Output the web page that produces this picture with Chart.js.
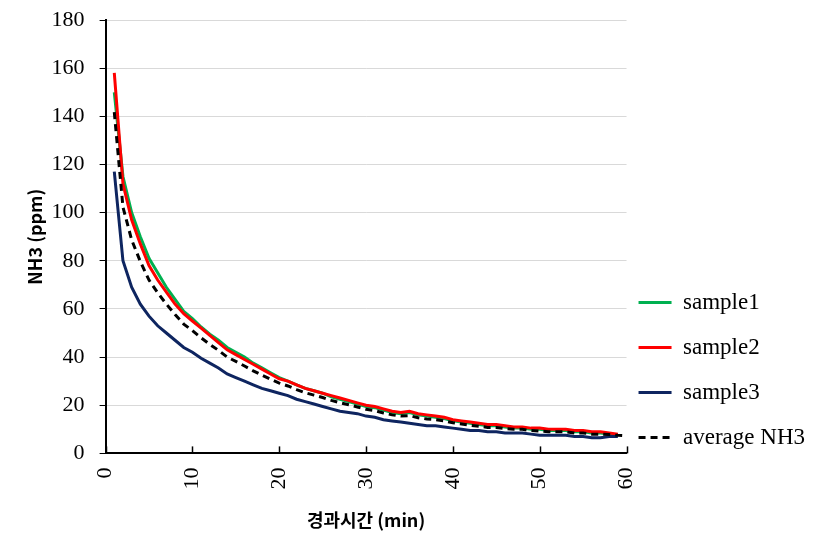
<!DOCTYPE html>
<html>
<head>
<meta charset="utf-8">
<script src="https://cdn.jsdelivr.net/npm/chart.js@4/dist/chart.umd.min.js"></script>
<style>
  html, body { margin: 0; padding: 0; background: #fff; }
  #wrap { width: 817px; height: 548px; }
</style>
</head>
<body>
<div id="wrap"><canvas id="nh3Chart" width="817" height="548"></canvas></div>
<script>
// elapsed time (min)
const minutes = [1,2,3,4,5,6,7,8,9,10,11,12,13,14,15,16,17,18,19,20,21,22,23,24,25,26,27,28,29,30,
  31,32,33,34,35,36,37,38,39,40,41,42,43,44,45,46,47,48,49,50,51,52,53,54,55,56,57,58,59];
const minutesAvg = [1,2,3,4,5,6,7,8,9,10,11,12,13,14,15,16,17,18,19,20,21,22,23,24,25,26,27,28,29,30,
  31,32,33,34,35,36,37,38,39,40,41,42,43,44,45,46,47,48,49,50,51,52,53,54,55,56,57,58,59,60];

// NH3 (ppm)
const sample1 = [150,115,100,90,81,75,69,64,59,56,52.5,49.5,47,44,42,40,37.5,35.5,33.5,31.5,
  30,28.5,27,26,25,23.5,22.5,21.5,20.5,19.5,19,18,17,16.5,17,16,15.5,15,14.5,13.5,
  13,12.5,12,11.5,11.5,11,10.5,10.5,10,10,9.5,9.5,9.5,9,9,8.5,8.5,8,7.5];
const sample2 = [158,112,97,87,78,72,67,62,58,55,52,49,46,43,41,39,37,35,33,31,
  30,28.5,27,26,25,24,23,22,21,20,19.5,18.5,17.5,17,17.5,16.5,16,15.5,15,14,
  13.5,13,12.5,12,12,11.5,11,11,10.5,10.5,10,10,10,9.5,9.5,9,9,8.5,8];
const sample3 = [117,80,69,62,57,53,50,47,44,42,39.5,37.5,35.5,33,31.5,30,28.5,27,26,25,
  24,22.5,21.5,20.5,19.5,18.5,17.5,17,16.5,15.5,15,14,13.5,13,12.5,12,11.5,11.5,11,10.5,
  10,9.5,9.5,9,9,8.5,8.5,8.5,8,7.5,7.5,7.5,7.5,7,7,6.5,6.5,7,7];
const averageNH3 = [141.7,102.3,88.7,79.7,72,66.7,62,57.7,53.7,51,48,45.3,42.8,40,38.2,36.3,34.3,32.5,30.8,29.2,
  28,26.5,25.2,24.2,23.2,22,21,20.2,19.3,18.3,17.8,16.8,16,15.5,15.7,14.8,14.3,14,13.5,12.7,
  12.2,11.7,11.3,10.8,10.8,10.3,10,10,9.5,9.3,9,9,9,8.5,8.5,8,8,7.8,7.5,7.3];

const xTicks = [0,10,20,30,40,50,60];
const yTicks = [0,20,40,60,80,100,120,140,160,180];

const toPoints = (xs, ys) => ys.map((v, i) => ({x: xs[i], y: v}));

// x axis tick marks point into the plot area
const innerTicks = {
  id: 'innerTicks',
  afterDraw(chart) {
    const sx = chart.scales.x;
    const ctx = chart.ctx;
    ctx.save();
    ctx.strokeStyle = '#000';
    ctx.lineWidth = 1.5;
    sx.ticks.forEach(t => {
      const px = Math.round(sx.getPixelForValue(t.value)) + 0.5;
      ctx.beginPath();
      ctx.moveTo(px, sx.top);
      ctx.lineTo(px, sx.top - 7);
      ctx.stroke();
    });
    ctx.restore();
  }
};

// legend sits a bit closer to the plot and lower than chart.js would put it
const legendNudge = {
  id: 'legendNudge',
  afterLayout(chart) {
    const lg = chart.legend;
    lg.left -= 10; lg.right -= 10;
    lg.top -= 64; lg.bottom -= 64;
  }
};

Chart.defaults.font.family = "'Liberation Serif', 'Times New Roman', serif";
Chart.defaults.color = '#000';

new Chart(document.getElementById('nh3Chart'), {
  type: 'line',
  data: {
    datasets: [
      // later series are painted over earlier ones, like in the original
      { label: 'sample1', data: toPoints(minutes, sample1), borderColor: '#00b050', borderWidth: 3, order: 4 },
      { label: 'sample2', data: toPoints(minutes, sample2), borderColor: '#ff0000', borderWidth: 3, order: 3 },
      { label: 'sample3', data: toPoints(minutes, sample3), borderColor: '#0e2560', borderWidth: 3, order: 2 },
      { label: 'average NH3', data: toPoints(minutesAvg, averageNH3), borderColor: '#000', borderWidth: 3, borderDash: [7, 5], order: 1 }
    ]
  },
  options: {
    responsive: false,
    animation: false,
    elements: { point: { radius: 0 }, line: { tension: 0 } },
    layout: { padding: { left: 20, right: -8, top: 0, bottom: 13 } },
    plugins: {
      tooltip: { enabled: false },
      legend: {
        position: 'right',
        align: 'end',
        labels: {
          usePointStyle: true,
          pointStyleWidth: 33,
          padding: 22,
          font: { size: 23 },
          color: '#000',
          generateLabels: chart => chart.data.datasets.map((ds, i) => ({
            text: ds.label,
            datasetIndex: i,
            pointStyle: 'line',
            strokeStyle: ds.borderColor,
            fillStyle: ds.borderColor,
            lineWidth: 3,
            lineDash: ds.borderDash || [],
            fontColor: '#000'
          }))
        }
      }
    },
    scales: {
      x: {
        type: 'linear',
        min: 0, max: 60,
        afterBuildTicks: s => { s.ticks = xTicks.map(v => ({value: v})); },
        ticks: { minRotation: 90, maxRotation: 90, padding: 14, font: { size: 22 } },
        grid: { drawOnChartArea: false, drawTicks: false },
        border: { color: '#000', width: 2 },
        title: {
          display: true,
          text: '경과시간 (min)',
          font: { family: "'Noto Sans CJK KR', 'Noto Sans', sans-serif", size: 18, weight: 'bold' },
          padding: { top: 6, bottom: 4 }
        }
      },
      y: {
        min: 0, max: 180,
        afterBuildTicks: s => { s.ticks = yTicks.map(v => ({value: v})); },
        // top label only needs half its height, not the tick padding too
        afterFit: s => { s.paddingTop = 20; },
        ticks: { padding: 15, font: { size: 22 } },
        grid: { color: '#d9d9d9', tickColor: '#000', tickLength: 6, lineWidth: 1 },
        border: { color: '#000', width: 2 },
        title: {
          display: true,
          text: 'NH3 (ppm)',
          font: { family: "'Noto Sans CJK KR', 'Noto Sans', sans-serif", size: 18, weight: 'bold' },
          padding: { top: 4, bottom: -9 }
        }
      }
    }
  },
  plugins: [innerTicks, legendNudge]
});
</script>
</body>
</html>
